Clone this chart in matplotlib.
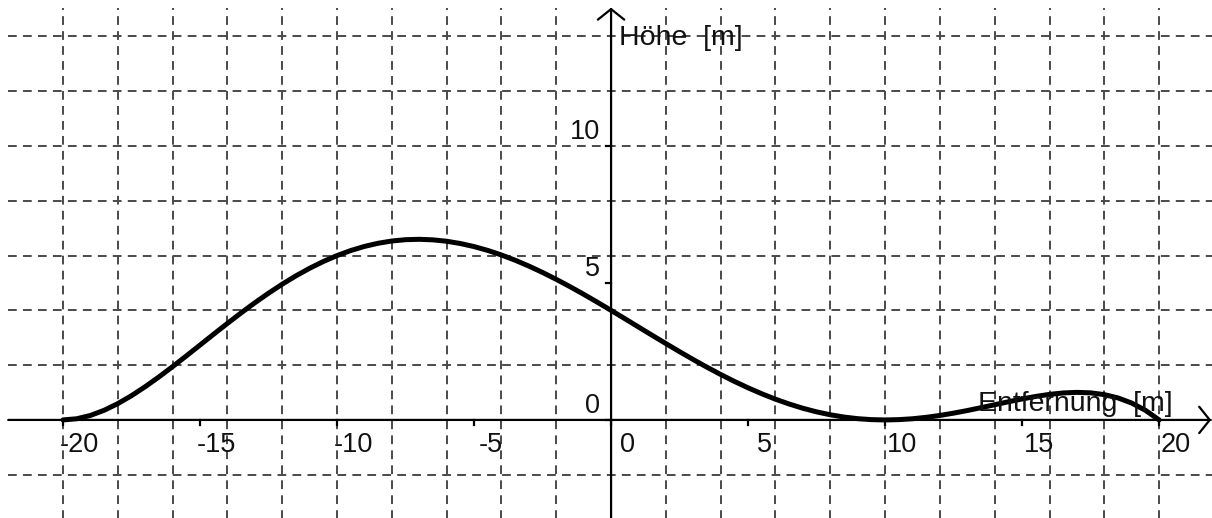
import matplotlib.pyplot as plt

# Daten (Schritt 0.5 m)
entfernung = [i / 2 for i in range(-40, 41)]
hoehe = [0.0, 0.043, 0.164, 0.352, 0.596, 0.886, 1.214, 1.570, 1.947, 2.337,
         2.734, 3.132, 3.525, 3.908, 4.277, 4.627, 4.956, 5.260, 5.537, 5.784,
         6.000, 6.184, 6.334, 6.450, 6.532, 6.580, 6.594, 6.574, 6.523, 6.440,
         6.328, 6.188, 6.021, 5.830, 5.617, 5.383, 5.132, 4.866, 4.587, 4.297,
         4.000, 3.698, 3.393, 3.089, 2.788, 2.492, 2.203, 1.925, 1.659, 1.407,
         1.172, 0.955, 0.757, 0.581, 0.426, 0.295, 0.188, 0.105, 0.046, 0.011,
         0.0, 0.011, 0.043, 0.095, 0.164, 0.248, 0.343, 0.447, 0.555, 0.663,
         0.766, 0.858, 0.933, 0.985, 1.006, 0.989, 0.924, 0.803, 0.616, 0.352,
         0.0]
x_ticks = [-20, -15, -10, -5, 0, 5, 10, 15, 20]
y_ticks = [0, 5, 10]
x_grid = list(range(-20, 22, 2))
y_grid = list(range(-2, 16, 2))

plt.rcParams['font.family'] = ['Liberation Sans', 'DejaVu Sans']

fig = plt.figure(figsize=(12.12, 5.18), dpi=100)
ax = fig.add_axes([0, 0, 1, 1])
ax.set_xlim(-22.3, 21.93)
ax.set_ylim(-3.58, 15.33)
ax.axis('off')

grid_kw = dict(color='#4a4a4a', lw=1.4, dashes=(4.5, 3.2))
for gx in x_grid:
    ax.plot([gx, gx], [-3.6, 15.05], **grid_kw)
for gy in y_grid:
    ax.plot([-22, 22], [gy, gy], **grid_kw)

# Achsen mit Pfeilen
pfeil = dict(arrowstyle='->,head_length=0.4,head_width=0.5', lw=1.6,
             color='black', mutation_scale=19, shrinkA=0, shrinkB=0)
ax.annotate('', xy=(21.9, 0), xytext=(-22, 0), arrowprops=pfeil)
ax.annotate('', xy=(0, 15.05), xytext=(0, -3.6), arrowprops=pfeil)

# Teilstriche
for t in x_ticks:
    ax.plot([t, t], [0, -0.17], color='black', lw=1.6)
for t in y_ticks:
    ax.plot([0, -0.17], [t, t], color='black', lw=1.6)

fs_tick = 19.5
fs_lab = 20.5
for t in x_ticks:
    ax.text(t + 0.6, -0.9, str(t), fontsize=fs_tick,
            ha='center', va='center', color='#111111')
for t in y_ticks:
    ax.text(-0.4, t + 0.5, str(t), fontsize=fs_tick, ha='right', va='center',
            color='#111111')

ax.text(0.3, 13.94, 'Höhe  [m]', fontsize=fs_lab, ha='left', va='center',
        color='#111111')
ax.text(20.5, 0.58, 'Entfernung  [m]', fontsize=fs_lab, ha='right', va='center',
        color='#111111')

ax.plot(entfernung, hoehe, color='black', lw=3.6, solid_joinstyle='round',
        solid_capstyle='round')

fig.savefig('out.png', dpi=100)
